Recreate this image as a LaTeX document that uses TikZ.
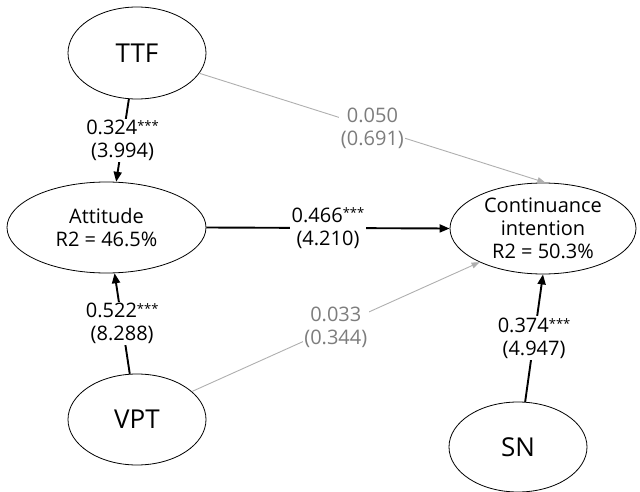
\documentclass[tikz,border=0pt]{standalone}
\usepackage{fontspec}
\setmainfont{Open Sans}
\usetikzlibrary{arrows.meta,shapes.geometric}
\definecolor{linegray}{RGB}{175,175,175}
\definecolor{textgray}{RGB}{125,125,125}
\newcommand{\stars}{\raisebox{4.2pt}{\fontsize{13}{13}\selectfont ***}}
\tikzset{
  construct/.style={ellipse, draw, line width=0.8pt, inner sep=0pt, align=center},
  bigtext/.style={font=\fontsize{26}{30}\selectfont},
  smalltext/.style={font=\fontsize{20}{23}\selectfont},
  sigpath/.style={line width=1.9pt, -{Triangle[length=10pt,width=8pt]}},
  nspath/.style={line width=0.9pt, linegray, -{Triangle[length=8pt,width=6pt]}},
  lbl/.style={fill=white, inner sep=1.5pt, align=center, font=\fontsize{20}{23}\selectfont},
  nslbl/.style={lbl, text=textgray}
}
\begin{document}
\begin{tikzpicture}[x=1pt,y=-1pt]
\useasboundingbox (0,0) rectangle (640,492);
\node[construct, bigtext, minimum width=138pt, minimum height=92pt] (ttf) at (137,53) {TTF};
\node[construct, smalltext, minimum width=199pt, minimum height=91pt] (att) at (106.5,227.5) {Attitude\\R2 = 46.5\%};
\node[construct, smalltext, minimum width=186pt, minimum height=91pt] (ci) at (543,228.5) {Continuance\\intention\\R2 = 50.3\%};
\node[construct, bigtext, minimum width=138pt, minimum height=91pt] (vpt) at (137,419.5) {VPT};
\node[construct, bigtext, minimum width=138pt, minimum height=90pt] (sn) at (518,447) {SN};

\draw[nspath] (ttf.342) -- node[nslbl] {0.050\\(0.691)} (ci.87);
\draw[nspath] (vpt.27) -- node[nslbl] {0.033\\(0.344)} (ci.208);
\draw[sigpath] (ttf.260) -- node[lbl] {0.324\stars\\(3.994)} (att.78);
\draw[sigpath] (vpt.99) -- node[lbl] {0.522\stars\\(8.288)} (att.280);
\draw[sigpath] (att.east) -- node[lbl] {0.466\stars\\(4.210)} (ci.west);
\draw[sigpath] (sn.81) -- node[lbl] {0.374\stars\\(4.947)} (ci.south);
\end{tikzpicture}
\end{document}
